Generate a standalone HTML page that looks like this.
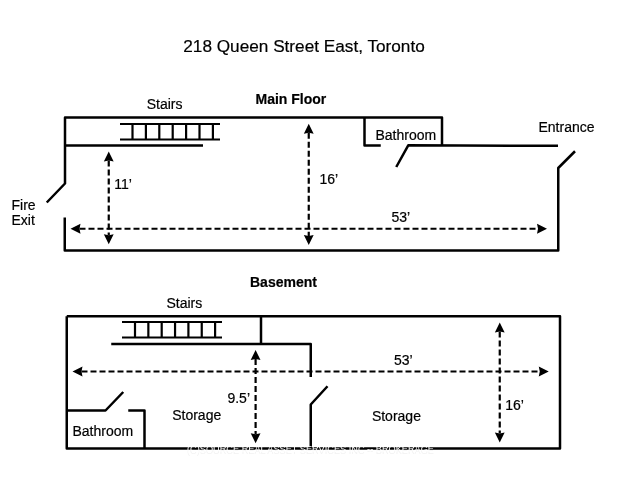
<!DOCTYPE html>
<html><head><meta charset="utf-8"><style>
html,body{margin:0;padding:0;background:#fff;width:620px;height:479px;overflow:hidden}
svg{display:block;will-change:transform}
text{font-family:"Liberation Sans",sans-serif;fill:#000;stroke:#000;stroke-width:0.2px}
</style></head><body>
<svg width="620" height="479" viewBox="0 0 620 479">
<text x="187" y="453.5" font-size="9.5" style="fill:#f2f2f2;stroke:none" textLength="247" lengthAdjust="spacingAndGlyphs">(C)SOURCE REAL ASSET SERVICES INC -- BROKERAGE</text>
<text x="183.3" y="51.6" font-size="17.2" font-weight="normal" text-anchor="start">218 Queen Street East, Toronto</text>
<text x="255.5" y="104.25" font-size="14" font-weight="bold" text-anchor="start">Main Floor</text>
<text x="146.7" y="108.5" font-size="14" font-weight="normal" text-anchor="start">Stairs</text>
<polyline points="46.75,202.5 65,183.5 65,117.5 442,117.5 442,145.5" fill="none" stroke="#000" stroke-width="2.5" stroke-linejoin="round" stroke-linecap="butt"/>
<polyline points="65,145.5 203,145.5" fill="none" stroke="#000" stroke-width="2.5" stroke-linejoin="round" stroke-linecap="butt"/>
<polyline points="364.5,117.5 364.5,145.5 380.75,145.5" fill="none" stroke="#000" stroke-width="2.5" stroke-linejoin="round" stroke-linecap="butt"/>
<polyline points="396.25,167 408.25,145.3 558,145.8" fill="none" stroke="#000" stroke-width="2.5" stroke-linejoin="round" stroke-linecap="butt"/>
<polyline points="575,151.25 558.25,168 558.25,250.5 64.75,250.5 64.75,217.5" fill="none" stroke="#000" stroke-width="2.5" stroke-linejoin="round" stroke-linecap="butt"/>
<line x1="120" y1="124" x2="220" y2="124" stroke="#000" stroke-width="2.2"/><line x1="120" y1="139.5" x2="220" y2="139.5" stroke="#000" stroke-width="2.2"/><line x1="132.5" y1="124" x2="132.5" y2="139.5" stroke="#000" stroke-width="2.2"/><line x1="145.9" y1="124" x2="145.9" y2="139.5" stroke="#000" stroke-width="2.2"/><line x1="159.3" y1="124" x2="159.3" y2="139.5" stroke="#000" stroke-width="2.2"/><line x1="172.7" y1="124" x2="172.7" y2="139.5" stroke="#000" stroke-width="2.2"/><line x1="186.1" y1="124" x2="186.1" y2="139.5" stroke="#000" stroke-width="2.2"/><line x1="199.5" y1="124" x2="199.5" y2="139.5" stroke="#000" stroke-width="2.2"/><line x1="212.9" y1="124" x2="212.9" y2="139.5" stroke="#000" stroke-width="2.2"/>
<text x="375.5" y="139.8" font-size="14" font-weight="normal" text-anchor="start">Bathroom</text>
<text x="538.5" y="132" font-size="14" font-weight="normal" text-anchor="start">Entrance</text>
<text x="11.5" y="209.6" font-size="14" font-weight="normal" text-anchor="start">Fire</text>
<text x="11.5" y="224.5" font-size="14" font-weight="normal" text-anchor="start">Exit</text>
<line x1="108.75" y1="160.5" x2="108.75" y2="235.25" stroke="#000" stroke-width="2.2" stroke-dasharray="6 3" stroke-dashoffset="0"/><path d="M108.75,151.5 L113.65,161.50 L108.75,160.50 L103.85,161.50 Z" fill="#000"/><path d="M108.75,244.25 L103.85,234.25 L108.75,235.25 L113.65,234.25 Z" fill="#000"/>
<line x1="308.75" y1="132.75" x2="308.75" y2="236" stroke="#000" stroke-width="2.2" stroke-dasharray="6 3" stroke-dashoffset="0"/><path d="M308.75,123.75 L313.65,133.75 L308.75,132.75 L303.85,133.75 Z" fill="#000"/><path d="M308.75,245 L303.85,235.00 L308.75,236.00 L313.65,235.00 Z" fill="#000"/>
<line x1="79.5" y1="228.75" x2="538" y2="228.75" stroke="#000" stroke-width="2.2" stroke-dasharray="6 3" stroke-dashoffset="0"/><path d="M70.5,228.75 L80.50,223.85 L79.50,228.75 L80.50,233.65 Z" fill="#000"/><path d="M547,228.75 L537.00,233.65 L538.00,228.75 L537.00,223.85 Z" fill="#000"/>
<text x="114.3" y="189.1" font-size="14" font-weight="normal" text-anchor="start">11&#8217;</text>
<text x="319.5" y="183.8" font-size="14" font-weight="normal" text-anchor="start">16&#8217;</text>
<text x="391.5" y="221.5" font-size="14" font-weight="normal" text-anchor="start">53&#8217;</text>
<text x="250" y="287.4" font-size="14" font-weight="bold" text-anchor="start">Basement</text>
<text x="166.5" y="308" font-size="14" font-weight="normal" text-anchor="start">Stairs</text>
<polyline points="66.75,316.25 560,316.25 560,448.5 66.75,448.5 66.75,316.25" fill="none" stroke="#000" stroke-width="2.5" stroke-linejoin="round" stroke-linecap="butt"/>
<line x1="122" y1="322" x2="222" y2="322" stroke="#000" stroke-width="2.2"/><line x1="122" y1="337.5" x2="222" y2="337.5" stroke="#000" stroke-width="2.2"/><line x1="135.0" y1="322" x2="135.0" y2="337.5" stroke="#000" stroke-width="2.2"/><line x1="148.35" y1="322" x2="148.35" y2="337.5" stroke="#000" stroke-width="2.2"/><line x1="161.7" y1="322" x2="161.7" y2="337.5" stroke="#000" stroke-width="2.2"/><line x1="175.05" y1="322" x2="175.05" y2="337.5" stroke="#000" stroke-width="2.2"/><line x1="188.4" y1="322" x2="188.4" y2="337.5" stroke="#000" stroke-width="2.2"/><line x1="201.75" y1="322" x2="201.75" y2="337.5" stroke="#000" stroke-width="2.2"/><line x1="215.1" y1="322" x2="215.1" y2="337.5" stroke="#000" stroke-width="2.2"/>
<polyline points="111.25,344 310.75,344 310.75,377" fill="none" stroke="#000" stroke-width="2.5" stroke-linejoin="round" stroke-linecap="butt"/>
<polyline points="261,316.25 261,344" fill="none" stroke="#000" stroke-width="2.5" stroke-linejoin="round" stroke-linecap="butt"/>
<polyline points="327.5,386.25 310.75,404.5 310.75,448.5" fill="none" stroke="#000" stroke-width="2.5" stroke-linejoin="round" stroke-linecap="butt"/>
<polyline points="66.75,410.5 105.5,410.5 123.25,392" fill="none" stroke="#000" stroke-width="2.5" stroke-linejoin="round" stroke-linecap="butt"/>
<polyline points="128.25,410.5 144.5,410.5 144.5,448.5" fill="none" stroke="#000" stroke-width="2.5" stroke-linejoin="round" stroke-linecap="butt"/>
<line x1="255.6" y1="359" x2="255.6" y2="434.25" stroke="#000" stroke-width="2.2" stroke-dasharray="6 3" stroke-dashoffset="0"/><path d="M255.6,350 L260.50,360.00 L255.60,359.00 L250.70,360.00 Z" fill="#000"/><path d="M255.6,443.25 L250.70,433.25 L255.60,434.25 L260.50,433.25 Z" fill="#000"/>
<line x1="499.75" y1="331.5" x2="499.75" y2="433.5" stroke="#000" stroke-width="2.2" stroke-dasharray="6 3" stroke-dashoffset="0"/><path d="M499.75,322.5 L504.65,332.50 L499.75,331.50 L494.85,332.50 Z" fill="#000"/><path d="M499.75,442.5 L494.85,432.50 L499.75,433.50 L504.65,432.50 Z" fill="#000"/>
<line x1="81.5" y1="371.5" x2="539.75" y2="371.5" stroke="#000" stroke-width="2.2" stroke-dasharray="6 3" stroke-dashoffset="0"/><path d="M72.5,371.5 L82.50,366.60 L81.50,371.50 L82.50,376.40 Z" fill="#000"/><path d="M548.75,371.5 L538.75,376.40 L539.75,371.50 L538.75,366.60 Z" fill="#000"/>
<text x="394" y="365" font-size="14" font-weight="normal" text-anchor="start">53&#8217;</text>
<text x="250" y="403.3" font-size="14" font-weight="normal" text-anchor="end">9.5&#8217;</text>
<text x="505.2" y="410.3" font-size="14" font-weight="normal" text-anchor="start">16&#8217;</text>
<text x="172.2" y="419.5" font-size="14" font-weight="normal" text-anchor="start">Storage</text>
<text x="371.9" y="421.25" font-size="14" font-weight="normal" text-anchor="start">Storage</text>
<text x="72.5" y="436.4" font-size="14" font-weight="normal" text-anchor="start">Bathroom</text>
<text x="187" y="452.3" font-size="9.5" style="fill:#ffffff;stroke:none" textLength="247" lengthAdjust="spacingAndGlyphs">(C)SOURCE REAL ASSET SERVICES INC -- BROKERAGE</text>
</svg>
</body></html>
